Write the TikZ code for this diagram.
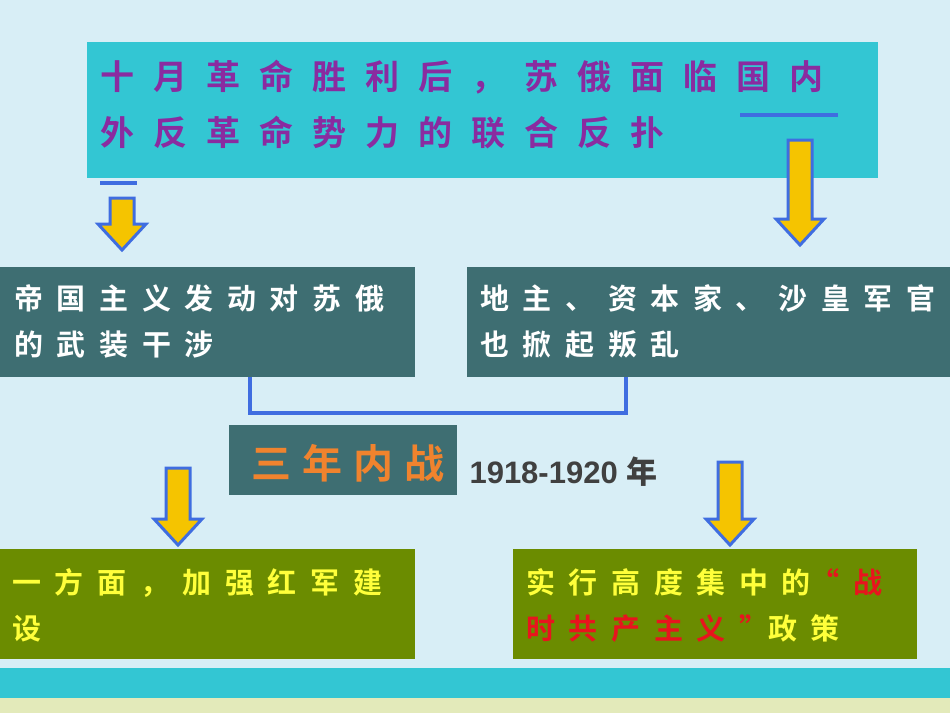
\documentclass[tikz,border=0pt]{standalone}
\usepackage{fontspec}
\usepackage{xcolor}
\usetikzlibrary{positioning}
\newfontfamily\cjk[LetterSpace=47]{Noto Sans CJK SC Bold}
\newfontfamily\cjkwide[LetterSpace=56]{Noto Sans CJK SC Bold}
\newfontfamily\cjkwar[LetterSpace=28]{Noto Sans CJK SC Bold}
\newfontfamily\cjkplain{Noto Sans CJK SC Bold}
\setmainfont{Liberation Sans}
\definecolor{skybg}{HTML}{D8EEF6}
\definecolor{cyanbox}{HTML}{33C6D3}
\definecolor{tealbox}{HTML}{3E6E72}
\definecolor{olivebox}{HTML}{6B8C00}
\definecolor{purpletxt}{HTML}{8A2BA0}
\definecolor{orangetxt}{HTML}{F0832E}
\definecolor{yellowtxt}{HTML}{FFFF3A}
\definecolor{redtxt}{HTML}{E8141E}
\definecolor{bluelink}{HTML}{3F6DE0}
\definecolor{arrowfill}{HTML}{F5C400}
% block arrow pointing down: top point, length
\newcommand{\blockdown}[2]{%
    \draw[downarrow] (#1) ++(-12,0) -- ++(24,0) -- ++(0,#2-26) -- ++(12,0)
        -- ++(-24,26) -- ++(-24,-26) -- ++(12,0) -- cycle;}
\begin{document}
\begin{tikzpicture}[
        x=1pt, y=-1pt,
        box/.style={
            rectangle,
            inner sep=0pt,
            anchor=north west,
            align=left,
            text=white
        },
        downarrow/.style={
            draw=bluelink,
            line width=3pt,
            fill=arrowfill,
            line join=miter
        },
        link/.style={
            draw=bluelink,
            line width=4pt
        }
    ]
        \useasboundingbox (0,0) rectangle (950,713);
        \fill[skybg] (0,0) rectangle (950,713);
        \fill[cyanbox] (0,668) rectangle (950,698);
        \fill[yellow!25!skybg] (0,698) rectangle (950,713);

        \node (top) [box, fill=cyanbox, minimum width=791pt, minimum height=136pt] at (87,42) {};
        \node (toptext) [anchor=north west, inner sep=0pt, text=purpletxt, align=left,
            font=\fontsize{34}{56}\cjkwide] at (100,60) {十月革命胜利后，苏俄面临国内\\外反革命势力的联合反扑};

        \node (imp) [box, fill=tealbox, minimum width=415pt, minimum height=110pt] at (0,267) {};
        \node (imptext) [anchor=north west, inner sep=0pt, text=white, align=left,
            font=\fontsize{29}{46}\cjk] at (14,284) {帝国主义发动对苏俄\\的武装干涉};
        \node (land) [box, fill=tealbox, minimum width=483pt, minimum height=110pt] at (467,267) {};
        \node (landtext) [anchor=north west, inner sep=0pt, text=white, align=left,
            font=\fontsize{29}{46}\cjk] at (480,284) {地主、资本家、沙皇军官\\也掀起叛乱};

        \node (war) [box, fill=tealbox, minimum width=228pt, minimum height=70pt] at (229,425) {};
        \node (wartext) [text=orangetxt, font=\fontsize{40}{42}\cjkwar] at (348,463) {三年内战};
        \node (years) [anchor=west, text=black!75, font=\fontsize{31}{32}\bfseries] at (466,472) {1918-1920 {\cjkplain 年}};

        \node (army) [box, fill=olivebox, minimum width=415pt, minimum height=110pt] at (0,549) {};
        \node (armytext) [anchor=north west, inner sep=0pt, text=yellowtxt, align=left,
            font=\fontsize{29}{46}\cjk] at (12,568) {一方面，加强红军建\\设};
        \node (policy) [box, fill=olivebox, minimum width=404pt, minimum height=110pt] at (513,549) {};
        \node (policytext) [anchor=north west, inner sep=0pt, text=yellowtxt, align=left,
            font=\fontsize{29}{46}\cjk] at (526,568) {实行高度集中的\textcolor{redtxt}{“战}\\\textcolor{redtxt}{时共产主义”}政策};

        % connectors
        \coordinate (barl) at (100,183);
        \coordinate (barr) at (740,115);
        \draw[link] (barl) -- ++(37,0);
        \draw[link] (barr) -- ++(98,0);
        \coordinate (a1) at (122,198);
        \coordinate (a2) at (800,140);
        \coordinate (a3) at (178,468);
        \coordinate (a4) at (730,462);
        \blockdown{a1}{52}
        \blockdown{a2}{105}
        \blockdown{a3}{77}
        \blockdown{a4}{83}
        \draw[link] (imp.south -| 250,0) |- (415,413) -| (land.south -| 626,0);
    \end{tikzpicture}
\end{document}
